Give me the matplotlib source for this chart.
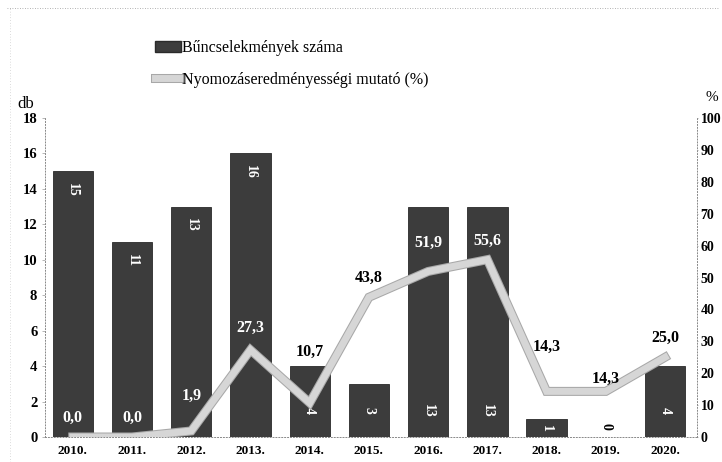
import numpy as np
import matplotlib
matplotlib.use("Agg")
import matplotlib.pyplot as plt
import matplotlib.patheffects as pe
from matplotlib.patches import Patch
from matplotlib.lines import Line2D

plt.rcParams['font.family'] = ['Liberation Serif', 'DejaVu Serif']

years = ['2010.', '2011.', '2012.', '2013.', '2014.', '2015.',
         '2016.', '2017.', '2018.', '2019.', '2020.']
crimes = [15, 11, 13, 16, 4, 3, 13, 13, 1, 0, 4]
rate = [0.0, 0.0, 1.9, 27.3, 10.7, 43.8, 51.9, 55.6, 14.3, 14.3, 25.0]
rate_labels = ['0,0', '0,0', '1,9', '27,3', '10,7', '43,8', '51,9', '55,6', '14,3', '14,3', '25,0']

# label placement (styling only)
bar_label_top = [True, True, True, True, False, False, False, False, False, False, False]
rate_offset = [6, 6, 11, 7, 16, 6, 9, 6, 14, 4, 6]
rate_white = [True, True, True, True, False, False, True, True, False, False, False]

x = np.arange(len(years))

fig = plt.figure(figsize=(7.22, 4.62), dpi=100)
ax = fig.add_axes([0.0623, 0.0541, 0.9031, 0.6905])
ax2 = ax.twinx()

ax.bar(x, crimes, width=0.68, color='#3c3c3c', edgecolor='#2a2a2a', linewidth=0.6, zorder=2)
ax.set_ylim(0, 18)
ax.set_yticks(range(0, 19, 2))
ax.set_xlim(-0.47, 10.54)
ax.set_xticks(x)
ax.set_xticklabels(years, fontsize=9.5, fontweight='bold')

for xi, v, top in zip(x, crimes, bar_label_top):
    if top:
        y = v - 1.05
    else:
        y = min(v / 2, 1.5) if v > 0 else 0.6
    ax.text(xi, y, str(v), rotation=-90, ha='center', va='center', fontsize=10,
            fontweight='bold', color='white' if v > 0 else 'black', zorder=5)

ax2.plot(x, rate, color='#d6d6d6', linewidth=5, solid_joinstyle='miter', zorder=3,
         path_effects=[pe.Stroke(linewidth=6.5, foreground='#a8a8a8'), pe.Normal()])
ax2.set_ylim(0, 100)
ax2.set_yticks(range(0, 101, 10))

for xi, v, lab, off, w in zip(x, rate, rate_labels, rate_offset, rate_white):
    ax2.text(xi, v + off, lab, ha='center', va='center', fontsize=11.5,
             fontweight='bold', color='white' if w else 'black', zorder=6)

for a in (ax, ax2):
    for s in a.spines.values():
        s.set_visible(False)
    a.tick_params(axis='y', length=2, width=0.5, color='#999999', labelsize=10.5)
    for t in a.get_yticklabels():
        t.set_fontweight('bold')
ax2.tick_params(axis='y', length=1, pad=1.5, labelsize=10)
ax.spines['left'].set_visible(True)
ax.spines['bottom'].set_visible(True)
ax2.spines['right'].set_visible(True)
for s in (ax.spines['left'], ax.spines['bottom'], ax2.spines['right']):
    s.set_linestyle((0, (1, 2)))
    s.set_linewidth(0.7)
    s.set_color('#888888')
ax.tick_params(axis='x', length=0, pad=6)

ax.text(-0.03, 1.02, 'db', transform=ax.transAxes, fontsize=12, ha='center', va='bottom')
ax2.text(1.013, 1.045, '%', transform=ax2.transAxes, fontsize=11, ha='left', va='bottom')

handles = [Patch(facecolor='#3c3c3c', edgecolor='#2a2a2a'),
           Line2D([0], [0], color='#d6d6d6', linewidth=5,
                  path_effects=[pe.Stroke(linewidth=6.5, foreground='#a8a8a8'), pe.Normal()])]
fig.legend(handles, ['Bűncselekmények száma', 'Nyomozáseredményességi mutató (%)'],
           loc='upper left', bbox_to_anchor=(0.195, 0.945), frameon=False, fontsize=11.5,
           handlelength=1.6, handletextpad=0.05, labelspacing=1.0)

# dotted frame remnants at top and left
fig.add_artist(Line2D([0.01, 0.995], [0.983, 0.983], transform=fig.transFigure,
                      linestyle=(0, (1, 2)), linewidth=0.6, color='#999999'))
fig.add_artist(Line2D([0.014, 0.014], [0.0, 0.983], transform=fig.transFigure,
                      linestyle=(0, (1, 3)), linewidth=0.5, color='#bbbbbb'))

fig.savefig('out.png', dpi=100, facecolor='white')
